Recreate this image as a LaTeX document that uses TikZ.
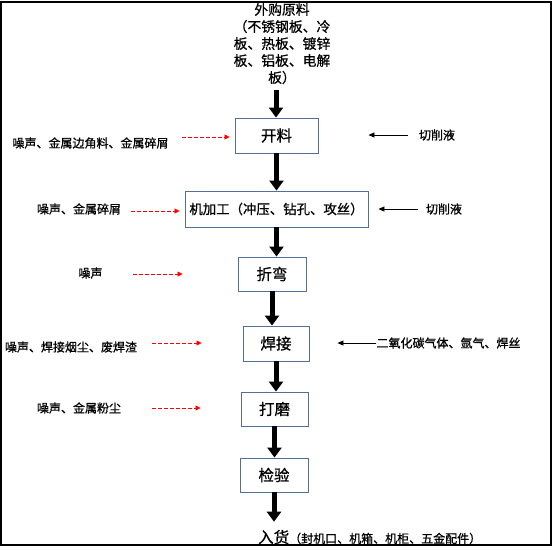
\documentclass[tikz,border=0pt]{standalone}
\usepackage{fontspec}
\setmainfont[FakeBold=0.8]{Noto Sans CJK SC}
\usetikzlibrary{arrows.meta}
\definecolor{boxedge}{RGB}{84,110,150}
\tikzset{
  procbox/.style={draw=boxedge, line width=0.9pt, fill=white, inner sep=0pt, font=\fontsize{15.5}{18}\selectfont},
  lbl/.style={inner sep=0pt, font=\fontsize{12}{14}\selectfont},
  mainarrow/.style={line width=5pt, -{Triangle[width=14pt,length=10pt]}},
  emitarrow/.style={red, line width=0.8pt, dash pattern=on 3.5pt off 2.5pt, -{Triangle[width=5pt,length=5pt]}},
  inarrow/.style={black, line width=0.8pt, -{Triangle[width=5pt,length=6pt]}}
}
\begin{document}
\begin{tikzpicture}[x=1pt,y=-1pt]
\useasboundingbox (0,0) rectangle (554,550);
\draw[line width=1.2pt] (1,2) rectangle (551,545);

% source text
\node[inner sep=0pt, anchor=north, align=center, font=\fontsize{13.8}{17}\selectfont] (src) at (282,3)
  {外购原料\\（不锈钢板、冷\\板、热板、镀锌\\板、铝板、电解\\板）};

% process boxes
\node[procbox, minimum width=83pt, minimum height=35pt] (kl) at (276.5,135.5) {开料};
\node[procbox, minimum width=183pt, minimum height=36pt, font=\fontsize{13.4}{16}\selectfont] (jg) at (276.5,209) {机加工（冲压、钻孔、攻丝）};
\node[procbox, minimum width=68pt, minimum height=34pt] (zw) at (272,274) {折弯};
\node[procbox, minimum width=66pt, minimum height=35pt] (hj) at (276,343.5) {焊接};
\node[procbox, minimum width=67pt, minimum height=34pt] (dm) at (274.5,409) {打磨};
\node[procbox, minimum width=68pt, minimum height=34pt] (jy) at (274,475) {检验};

% output text
\node[inner sep=0pt, anchor=base west] (out) at (258,543)
  {\fontsize{15.5}{18}\selectfont 入货\fontsize{12}{14}\selectfont（封机口、机箱、机柜、五金配件）};

% main flow arrows
\coordinate (top) at (276,90);
\draw[mainarrow] (top) -- (top |- kl.north);
\draw[mainarrow] (kl.south) -- (kl.south |- jg.north);
\draw[mainarrow] (jg.south) -- (jg.south |- zw.north);
\draw[mainarrow] (zw.south) -- (zw.south |- hj.north);
\draw[mainarrow] (hj.south) -- (hj.south |- dm.north);
\draw[mainarrow] (dm.south) -- (dm.south |- jy.north);
\draw[mainarrow, shorten >=8pt] (jy.south) -- (jy.south |- out.north);

% emissions (left)
\node[lbl] (L1) at (90.5,143) {噪声、金属边角料、金属碎屑};
\node[lbl] (L2) at (79,209) {噪声、金属碎屑};
\node[lbl] (L3) at (90.5,273) {噪声};
\node[lbl] (L4) at (71,347) {噪声、焊接烟尘、废焊渣};
\node[lbl] (L5) at (79,408) {噪声、金属粉尘};
\coordinate (s1) at (182,137);
\coordinate (s2) at (131,211);
\coordinate (s3) at (133,274);
\coordinate (s4) at (152,343);
\coordinate (s5) at (152,408);
\draw[emitarrow, shorten >=5pt] (s1) -- (kl.west |- s1);
\draw[emitarrow, shorten >=5pt] (s2) -- (jg.west |- s2);
\draw[emitarrow, shorten >=55pt] (s3) -- (zw.west |- s3);
\draw[emitarrow, shorten >=41pt] (s4) -- (hj.west |- s4);
\draw[emitarrow, shorten >=40pt] (s5) -- (dm.west |- s5);

% inputs (right)
\node[lbl] (R1) at (437,135) {切削液};
\node[lbl] (R2) at (444,209) {切削液};
\node[lbl] (R3) at (448.5,343) {二氧化碳气体、氩气、焊丝};
\draw[inarrow, shorten <=11pt, shorten >=50pt] (R1.west) -- (kl.east |- R1.west);
\draw[inarrow, shorten <=8pt, shorten >=10pt] (R2.west) -- (jg.east |- R2.west);
\draw[inarrow, shorten >=28pt] (R3.west) -- (hj.east |- R3.west);
\end{tikzpicture}
\end{document}
